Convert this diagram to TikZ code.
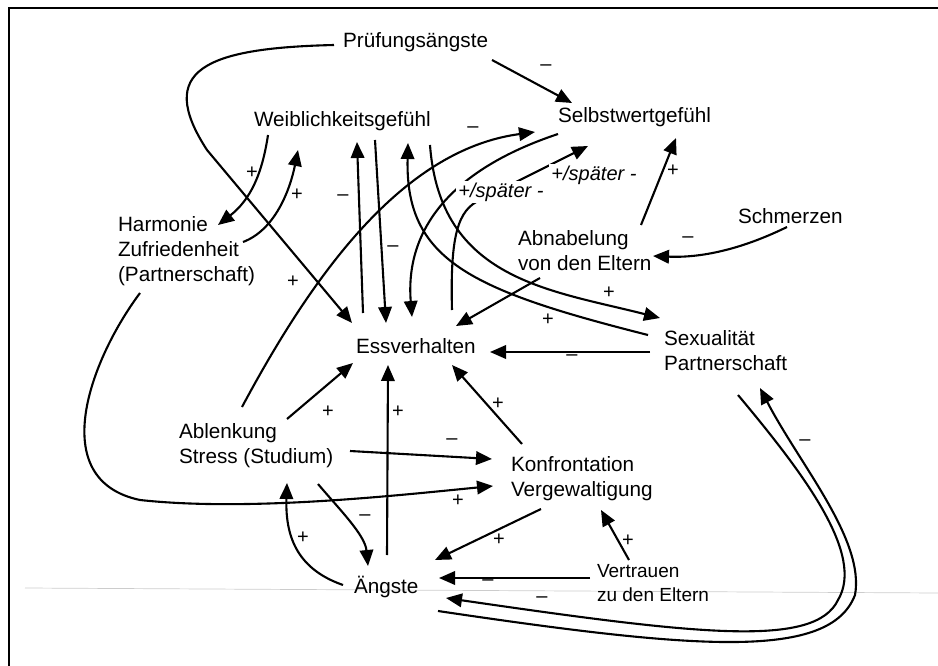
\documentclass[tikz,border=0pt]{standalone}
\usepackage{fontspec}
\setmainfont{Liberation Sans}
\usetikzlibrary{arrows.meta}

\begin{document}
\begin{tikzpicture}[x=1pt,y=-1pt,line width=2.1pt,
  arr/.style={-{Triangle[length=16pt,width=13.5pt]}},
  txt/.style={anchor=west,inner sep=0,align=left,
    font=\fontsize{20.7}{25}\selectfont,
    execute at begin node=\strut,execute at end node=\strut},
  small/.style={txt,font=\fontsize{19}{24}\selectfont},
  lbl/.style={inner sep=0,font=\fontsize{20}{24}\selectfont},
  later/.style={lbl,font=\fontsize{20}{24}\selectfont\itshape,
    fill=white,inner sep=2pt}]

\useasboundingbox (0,0) rectangle (938,666);

% frame and scan line
\draw[line width=1.5pt] (9,666) -- (9,8) -- (938,8);
\draw[gray!40,line width=0.7pt] (25,588) -- (938,593);

\node[txt] (pruef) at (342,43) {Prüfungsängste};
\node[txt] (weibl) at (253,122) {Weiblichkeitsgefühl};
\node[txt] (selbst) at (557,118) {Selbstwertgefühl};
\node[txt] (harm) at (117,253) {Harmonie\\Zufriedenheit\\(Partnerschaft)};
\node[txt] (schmerz) at (737,218) {Schmerzen};
\node[txt] (abnab) at (517,254) {Abnabelung\\von den Eltern};
\node[txt] (ess) at (355,348) {Essverhalten};
\node[txt] (sex) at (663,354) {Sexualität\\Partnerschaft};
\node[txt] (ablenk) at (178,447) {Ablenkung\\Stress (Studium)};
\node[txt] (konf) at (510,480) {Konfrontation\\Vergewaltigung};
\node[txt] (angst) at (353,588) {Ängste};
\node[small] (vertr) at (596,587) {Vertrauen\\zu den Eltern};

% top part
\draw[arr] ([shift={(150,17)}]pruef.west) -- ([shift={(15,-15)}]selbst.west);
\draw[arr] ([shift={(-8,2)}]pruef.west) .. controls (205,48) and (155,70) .. (207,150)
  -- ([shift={(-3,-25)}]ess.west);
\draw[arr] ([shift={(15,13)}]weibl.west) .. controls (262,175) and (250,200)
  .. ([shift={(101,-28)}]harm.west);
\draw[arr] ([shift={(126,-11)}]harm.west) .. controls (275,230) and (290,190)
  .. ([shift={(45,28)}]weibl.west);
\draw[arr] ([shift={(23,40)}]harm.west) .. controls (90,360) and (45,480) .. (140,500)
  .. controls (250,512) and (400,495) .. ([shift={(-17,6)}]konf.west);

% bundle round Essverhalten
\draw[arr] ([shift={(8,-35)}]ess.west) -- ([shift={(104,20)}]weibl.west);
\draw[arr] ([shift={(122,18)}]weibl.west) -- ([shift={(31,-25)}]ess.west);
\draw[arr] ([shift={(-15,-19)}]sex.west) .. controls (470,290) and (405,260)
  .. ([shift={(155,21)}]weibl.west);
\draw[arr] ([shift={(177,23)}]weibl.west) .. controls (440,280) and (550,290)
  .. ([shift={(-3,-36)}]sex.west);
\draw[arr] ([shift={(1,16)}]selbst.west) .. controls (450,170) and (405,230)
  .. ([shift={(57,-31)}]ess.west);
\draw[arr] ([shift={(64,-40)}]ablenk.west) .. controls (310,280) and (400,150)
  .. ([shift={(-22,14)}]selbst.west);
\draw[arr] ([shift={(97,-38)}]ess.west) .. controls (450,235) and (458,210) .. (480,200)
  -- ([shift={(31,28)}]selbst.west);
\draw[arr] ([shift={(124,-29)}]abnab.west) -- ([shift={(119,20)}]selbst.west);
\draw[arr] ([shift={(50,9)}]schmerz.west) .. controls (740,250) and (700,258)
  .. ([shift={(136,2)}]abnab.west);
\draw[arr] ([shift={(23,24)}]abnab.west) -- ([shift={(101,-22)}]ess.west);
\draw[arr] ([shift={(-13,-2)}]sex.west) -- ([shift={(135,4)}]ess.west);

% lower part
\draw[arr] ([shift={(109,-28)}]ablenk.west) -- ([shift={(-2,15)}]ess.west);
\draw[arr] ([shift={(34,-33)}]angst.west) -- ([shift={(33,17)}]ess.west);
\draw[arr] ([shift={(12,-36)}]konf.west) -- ([shift={(97,17)}]ess.west);
\draw[arr] ([shift={(172,4)}]ablenk.west) -- ([shift={(-18,-21)}]konf.west);
\draw[arr] ([shift={(140,37)}]ablenk.west) .. controls (340,510) and (365,535)
  .. ([shift={(15,-22)}]angst.west);
\draw[arr] ([shift={(-10,-3)}]angst.west) .. controls (300,570) and (285,540)
  .. ([shift={(109,36)}]ablenk.west);
\draw[arr] ([shift={(31,29)}]konf.west) -- ([shift={(82,-28)}]angst.west);
\draw[arr] ([shift={(33,-27)}]vertr.west) -- ([shift={(91,30)}]konf.west);
\draw[arr] ([shift={(-6,-9)}]vertr.west) -- ([shift={(86,-10)}]angst.west);
\draw[arr] ([shift={(75,41)}]sex.west) .. controls (805,475) and (865,555) .. (838,600)
  .. controls (815,648) and (700,635) .. ([shift={(93,10)}]angst.west);
\draw[arr] ([shift={(85,23)}]angst.west) .. controls (700,650) and (830,660) .. (855,595)
  .. controls (865,540) and (800,465) .. ([shift={(97,34)}]sex.west);

% signs
\node[later] (sp1) at (501,192) {+/später -};
\node[later] (sp2) at (594,175) {+/später -};
\node[lbl] (m1) at (546,68) {--};
\node[lbl] (p1) at (293,282) {+};
\node[lbl] (p2) at (252,173) {+};
\node[lbl] (p3) at (297,195) {+};
\node[lbl] (p4) at (458,501) {+};
\node[lbl] (m2) at (343,198) {--};
\node[lbl] (m3) at (393,249) {--};
\node[lbl] (p5) at (548,320) {+};
\node[lbl] (p6) at (609,293) {+};
\node[lbl] (m4) at (473,130) {--};
\node[lbl] (p7) at (673,171) {+};
\node[lbl] (m5) at (688,240) {--};
\node[lbl] (m6) at (572,358) {--};
\node[lbl] (p8) at (328,412) {+};
\node[lbl] (p9) at (398,412) {+};
\node[lbl] (p10) at (498,404) {+};
\node[lbl] (m7) at (452,442) {--};
\node[lbl] (m8) at (365,518) {--};
\node[lbl] (p11) at (303,538) {+};
\node[lbl] (p12) at (499,540) {+};
\node[lbl] (p13) at (628,541) {+};
\node[lbl] (m9) at (488,583) {--};
\node[lbl] (m10) at (542,600) {--};
\node[lbl] (m11) at (805,443) {--};

\end{tikzpicture}
\end{document}
